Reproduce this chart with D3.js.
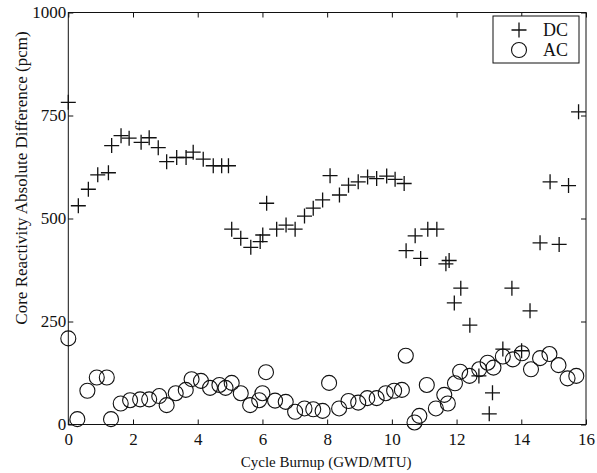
<!DOCTYPE html>
<html>
<head>
<meta charset="utf-8">
<script src="https://cdn.jsdelivr.net/npm/d3@7"></script>
<style>
  body { margin: 0; background: #fff; }
  svg text { font-family: "Liberation Serif", "DejaVu Serif", serif; fill: #111; }
</style>
</head>
<body>
<div id="chart"></div>
<script>
// values
var dcBurnup = [0.0, 0.31, 0.62, 0.91, 1.24, 1.34, 1.63, 1.88, 2.25, 2.50, 2.78, 3.04, 3.35, 3.64, 3.86,
    4.17, 4.48, 4.74, 4.95, 5.05, 5.33, 5.64, 5.93, 6.01, 6.13, 6.44, 6.73, 7.01, 7.30, 7.57, 7.86,
    8.09, 8.38, 8.66, 8.96, 9.25, 9.53, 9.84, 10.10, 10.38, 10.44, 10.72, 10.89, 11.11, 11.39, 11.67,
    11.77, 11.93, 12.13, 12.41, 12.69, 13.01, 13.11, 13.43, 13.71, 14.01, 14.27, 14.58, 14.89, 15.17, 15.46, 15.77];
var dcDiff = [782, 531, 571, 606, 611, 677, 701, 695, 685, 696, 672, 638, 648, 648, 661,
    644, 628, 628, 628, 474, 452, 430, 444, 460, 537, 474, 484, 474, 506, 525, 545,
    604, 557, 581, 589, 601, 597, 603, 595, 585, 422, 458, 403, 474, 474, 390,
    398, 295, 331, 241, 118, 26, 77, 183, 331, 179, 276, 441, 589, 437, 580, 759];

var acBurnup = [0.0, 0.28, 0.59, 0.88, 1.19, 1.32, 1.62, 1.91, 2.22, 2.50, 2.81, 3.04, 3.32, 3.63, 3.81,
    4.10, 4.38, 4.67, 4.86, 5.05, 5.33, 5.62, 5.90, 6.00, 6.11, 6.39, 6.72, 7.01, 7.30, 7.57, 7.86,
    8.06, 8.37, 8.66, 8.96, 9.24, 9.53, 9.81, 10.07, 10.31, 10.43, 10.70, 10.85, 11.08, 11.36, 11.62,
    11.73, 11.95, 12.11, 12.40, 12.70, 12.96, 13.14, 13.43, 13.74, 14.02, 14.30, 14.58, 14.87, 15.15, 15.43, 15.70];
var acDiff = [209, 13, 82, 114, 114, 13, 51, 59, 61, 61, 69, 47, 76, 84, 110,
    106, 89, 96, 89, 101, 76, 47, 59, 76, 127, 58, 55, 31, 39, 37, 33,
    101, 39, 57, 53, 64, 64, 76, 82, 84, 167, 5, 21, 96, 39, 72,
    51, 100, 128, 118, 134, 150, 138, 165, 158, 173, 134, 161, 171, 144, 112, 118];

var xTicks = [0, 2, 4, 6, 8, 10, 12, 14, 16];
var yTicks = [0, 250, 500, 750, 1000];
var seriesNames = ["DC", "AC"];

var width = 597, height = 473;
var margin = { top: 12.5, right: 11, bottom: 48.5, left: 68.3 };
var innerW = width - margin.left - margin.right;
var innerH = height - margin.top - margin.bottom;
var ink = "#111";

var svg = d3.select("#chart").append("svg")
    .attr("width", width)
    .attr("height", height);

var g = svg.append("g")
    .attr("transform", "translate(" + margin.left + "," + margin.top + ")");

var x = d3.scaleLinear().domain([0, 16]).range([0, innerW]);
var y = d3.scaleLinear().domain([0, 1000]).range([innerH, 0]);

// frame box
g.append("rect")
    .attr("width", innerW).attr("height", innerH)
    .attr("fill", "none").attr("stroke", ink).attr("stroke-width", 1);

// ticks inward on all four sides, labels on bottom and left only
function styleAxis(sel) {
    sel.select(".domain").remove();
    sel.selectAll(".tick line").attr("stroke", ink);
    sel.selectAll(".tick text")
        .style("font-family", "'Liberation Serif', serif")
        .style("font-size", "17px")
        .attr("fill", ink);
}

g.append("g").attr("transform", "translate(0," + innerH + ")")
    .call(d3.axisBottom(x).tickValues(xTicks).tickSizeInner(-5).tickSizeOuter(0).tickPadding(8).tickFormat(d3.format("d")))
    .call(styleAxis);
g.append("g")
    .call(d3.axisTop(x).tickValues(xTicks).tickSizeInner(-5).tickSizeOuter(0).tickFormat(""))
    .call(styleAxis);
g.append("g")
    .call(d3.axisLeft(y).tickValues(yTicks).tickSizeInner(-5).tickSizeOuter(0).tickPadding(2).tickFormat(d3.format("d")))
    .call(styleAxis);
g.append("g").attr("transform", "translate(" + innerW + ",0)")
    .call(d3.axisRight(y).tickValues(yTicks).tickSizeInner(-5).tickSizeOuter(0).tickFormat(""))
    .call(styleAxis);

// axis titles
svg.append("text")
    .attr("x", margin.left + innerW / 2 - 1)
    .attr("y", 467)
    .attr("text-anchor", "middle")
    .style("font-size", "15px")
    .text("Cycle Burnup (GWD/MTU)");

svg.append("text")
    .attr("transform", "translate(27,178) rotate(-90)")
    .attr("text-anchor", "middle")
    .style("font-size", "17px")
    .text("Core Reactivity Absolute Difference (pcm)");

// markers
var plusHalf = 7.5;
var plusPath = "M" + (-plusHalf) + ",0H" + plusHalf + "M0," + (-plusHalf) + "V" + plusHalf;

var dcData = dcBurnup.map(function (b, i) { return { x: b, y: dcDiff[i] }; });
var acData = acBurnup.map(function (b, i) { return { x: b, y: acDiff[i] }; });

g.append("g").selectAll("path")
    .data(dcData).enter().append("path")
    .attr("d", plusPath)
    .attr("transform", function (d) { return "translate(" + x(d.x) + "," + y(d.y) + ")"; })
    .attr("stroke", ink).attr("stroke-width", 1.3).attr("fill", "none");

g.append("g").selectAll("circle")
    .data(acData).enter().append("circle")
    .attr("cx", function (d) { return x(d.x); })
    .attr("cy", function (d) { return y(d.y); })
    .attr("r", 7.5)
    .attr("stroke", ink).attr("stroke-width", 1.1).attr("fill", "none");

// legend
var legend = svg.append("g").attr("transform", "translate(493,16)");
legend.append("rect")
    .attr("width", 86).attr("height", 47)
    .attr("fill", "#fff").attr("stroke", ink).attr("stroke-width", 1);

var rows = legend.selectAll(".legend")
    .data(seriesNames).enter().append("g")
    .attr("class", "legend")
    .attr("transform", function (d, i) { return "translate(0," + (14 + i * 20) + ")"; });

rows.each(function (d, i) {
    var row = d3.select(this);
    if (i === 0) {
        row.append("path").attr("d", plusPath).attr("transform", "translate(26,0)")
            .attr("stroke", ink).attr("stroke-width", 1.3).attr("fill", "none");
    } else {
        row.append("circle").attr("cx", 26).attr("cy", 0).attr("r", 7.5)
            .attr("stroke", ink).attr("stroke-width", 1.1).attr("fill", "none");
    }
});

rows.append("text")
    .attr("x", 50)
    .attr("y", 6)
    .style("font-size", "18px")
    .text(function (d) { return d; });
</script>
</body>
</html>
